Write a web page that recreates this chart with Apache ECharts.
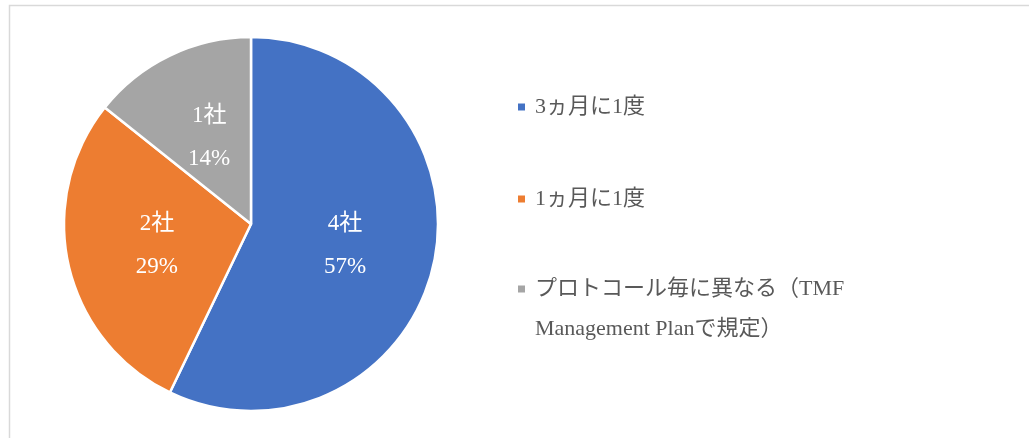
<!DOCTYPE html>
<html lang="ja">
<head>
<meta charset="utf-8">
<script src="https://cdn.jsdelivr.net/npm/echarts@6/dist/echarts.min.js"></script>
<style>
  html, body { margin: 0; padding: 0; background: #fff; }
  #main { width: 1029px; height: 438px; }
</style>
</head>
<body>
<div id="main"></div>
<script type="text/javascript">
// データ
var categories = ['3ヵ月に1度', '1ヵ月に1度', 'プロトコール毎に異なる（TMF Management Planで規定）'];
var counts = [4, 2, 1];
var colors = ['#4472C4', '#ED7D31', '#A5A5A5'];

var serif = '"Liberation Serif", "DejaVu Serif", "Noto Sans CJK JP", serif';

var pieData = [];
for (var i = 0; i < categories.length; i++) {
    pieData.push({ name: categories[i], value: counts[i], itemStyle: { color: colors[i] } });
}

// 凡例は1項目ずつ置く（3つ目は2行で、マーカーは1行目に揃える）
var legendTops = [87, 179, 229];
var legends = [];
for (var j = 0; j < categories.length; j++) {
    legends.push({
        orient: 'vertical',
        left: 516,
        top: legendTops[j],
        padding: 0,
        icon: 'rect',
        itemWidth: 9,
        itemHeight: 9,
        data: [{ name: categories[j] }],
        formatter: function (name) {
            if (name.indexOf('（TMF ') >= 0) {
                return '\n' + name.replace('（TMF ', '（TMF\n');
            }
            return name;
        },
        textStyle: {
            fontFamily: serif,
            fontSize: 22,
            color: '#595959',
            lineHeight: 40,
            padding: [0, 0, 0, 4]
        },
        selectedMode: false
    });
}

var myChart = echarts.init(document.getElementById('main'));
var option = {
    animation: false,
    backgroundColor: '#fff',
    graphic: [{
        type: 'rect',
        shape: { x: 9.5, y: 5.5, width: 1100, height: 500 },
        style: { fill: 'none', stroke: '#D9D9D9', lineWidth: 1.5 },
        silent: true
    }],
    legend: legends,
    series: [{
        type: 'pie',
        center: [251, 224],
        radius: 187,
        startAngle: 90,
        clockwise: true,
        data: pieData,
        itemStyle: { borderColor: '#fff', borderWidth: 2.5 },
        label: {
            show: true,
            position: 'inside',
            formatter: function (p) {
                return p.value + '社\n' + Math.round(p.percent) + '%';
            },
            fontFamily: serif,
            fontSize: 23,
            lineHeight: 43,
            color: '#fff',
            padding: [4, 0, 0, 0]
        },
        labelLine: { show: false },
        emphasis: { disabled: true }
    }]
};
myChart.setOption(option);
</script>
</body>
</html>
